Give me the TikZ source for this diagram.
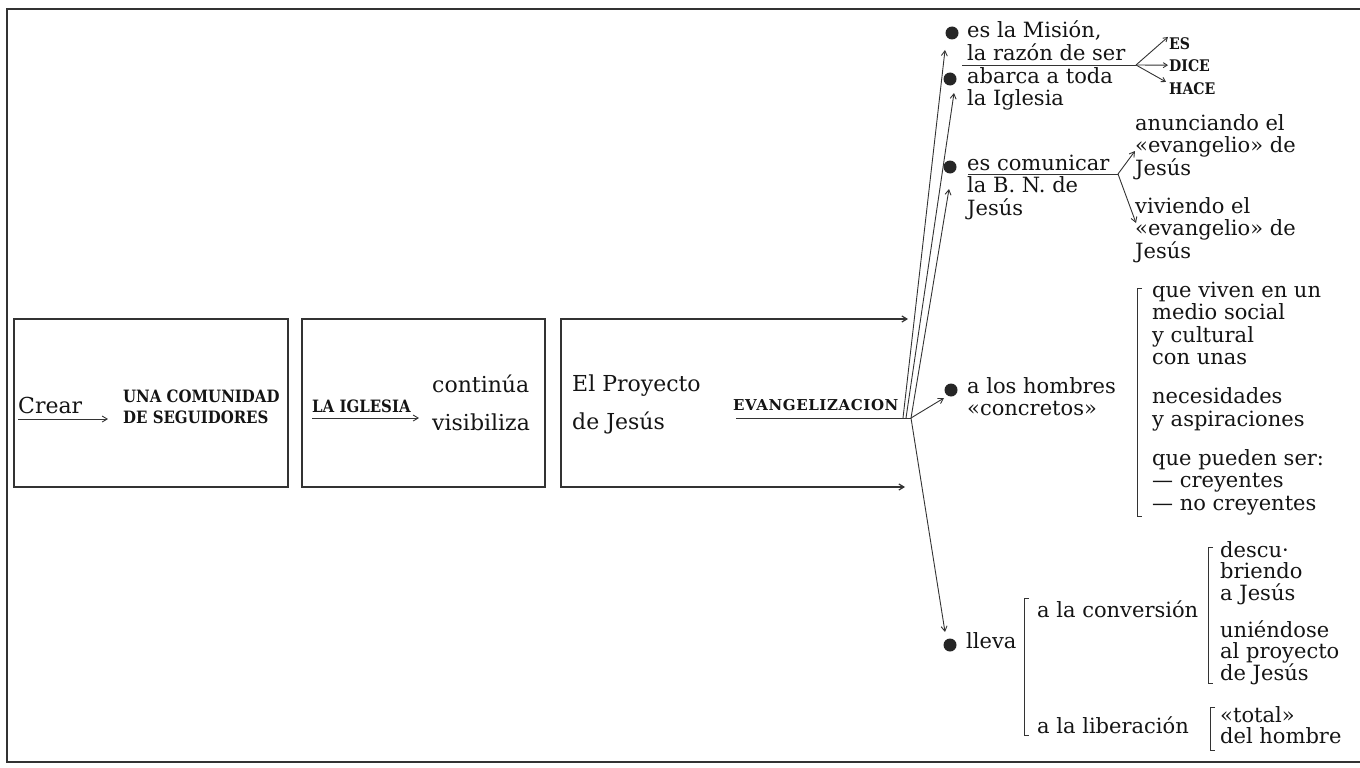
\documentclass[tikz,border=0pt]{standalone}
\usepackage{fontspec}
\setmainfont{DejaVu Serif}
\newfontfamily\capsfont[FakeStretch=0.88]{DejaVu Serif}
\newfontfamily\evanfont[LetterSpace=4]{DejaVu Serif}
\usetikzlibrary{arrows.meta}
\begin{document}
\begin{tikzpicture}[x=1pt,y=-1pt,
  frame/.style={draw=black!80,line width=1.6pt},
  boxline/.style={draw=black!80,line width=1.5pt},
  conn/.style={draw=black!80,line width=0.9pt,-{Straight Barb[length=5pt,width=6pt]}},
  sconn/.style={draw=black!80,line width=0.9pt,-{Straight Barb[length=4pt,width=5pt]}},
  plain/.style={draw=black!80,line width=0.9pt},
  brk/.style={draw=black!80,line width=1pt},
  txt/.style={inner sep=0pt,anchor=base west,align=left,text=black!92,font=\fontsize{21}{22.5}\selectfont},
  big/.style={txt,font=\fontsize{22}{38}\selectfont},
  caps/.style={txt,font=\capsfont\bfseries\fontsize{17}{21}\selectfont},
  ecaps/.style={txt,font=\evanfont\bfseries\fontsize{15}{21}\selectfont},
  tcaps/.style={txt,font=\capsfont\bfseries\fontsize{16}{16}\selectfont},
  dot/.style={circle,fill=black!85,inner sep=0pt,minimum size=13pt}]
\useasboundingbox (0,0) rectangle (1360,768);
% frame
\draw[frame] (1360,9) -- (7,9) -- (7,762) -- (1360,762);
% boxes
\node[boxline,draw,minimum width=274pt,minimum height=168pt,inner sep=0pt] (box1) at (151,403) {};
\node[boxline,draw,minimum width=243pt,minimum height=168pt,inner sep=0pt] (box2) at (423.5,403) {};
\coordinate (t3a) at (908,319);
\coordinate (t3b) at (905,487);
\draw[boxline,{Straight Barb[length=5pt,width=6pt]}-{Straight Barb[length=5pt,width=6pt]},line width=1.2pt] (t3a) -- (561,319) -- (561,487) -- (t3b);
% box texts (base = baseline of last line)
\node[big] (crear) at (18,413) {Crear};
\node[caps] (una) at (123,423) {UNA COMUNIDAD\\DE SEGUIDORES};
\draw[conn,shorten >=15pt] ([yshift=-6pt]crear.base west) -- ([yshift=-6pt]crear.base west -| una.west);
\node[caps] (igl) at (312,412) {LA IGLESIA};
\node[big] (cont) at (432,430) {continúa\\visibiliza};
\draw[conn,shorten >=13pt] ([yshift=-6pt]igl.base west) -- ([yshift=-6pt]igl.base west -| cont.west);
\node[big] (proy) at (572,429) {El Proyecto\\de  Jesús};
\node[ecaps] (evan) at (733,410) {EVANGELIZACION};
\coordinate (F) at (911,418);
\coordinate (F1) at (903,418);
\coordinate (F2) at (906,418);
\draw[plain] ([xshift=3pt,yshift=-8pt]evan.base west) -- (F);
% bullets
\node[dot] (b1) at (952,33) {};
\node[dot] (b2) at (950,79) {};
\node[dot] (b3) at (950,167) {};
\node[dot] (b4) at (951,390) {};
\node[dot] (b5) at (950,645) {};
\coordinate (a1) at (945,50);
\coordinate (a2) at (954,93);
\coordinate (a3) at (949,189);
\coordinate (a4) at (944,398);
\coordinate (a5) at (945,632);
\draw[conn] (F1) -- (a1);
\draw[conn] (F2) -- (a2);
\draw[conn] (F) -- (a3);
\draw[conn] (F) -- (a4);
\draw[conn] (F) -- (a5);
% top block
\node[txt] (t1) at (967,60.5) {es la Misión,\\la razón de ser};
\node[txt] (t2) at (967,105.5) {abarca a toda\\la Iglesia};
\coordinate (u1) at (962,65);
\coordinate (G) at (1136,65);
\draw[plain] (u1) -- (G);
\node[tcaps] (es) at (1169,49) {ES};
\node[tcaps] (dice) at (1169,71) {DICE};
\node[tcaps] (hace) at (1169,95) {HACE};
\draw[sconn] (G) -- ([xshift=-1pt]es.north west);
\draw[sconn] (G) -- ([xshift=-1pt]dice.west);
\draw[sconn] (G) -- ([xshift=-3pt,yshift=1pt]hace.north west);
% comunicar block
\node[txt] (t3) at (967,215) {es comunicar\\la B. N. de\\Jesús};
\coordinate (u3) at (968,174);
\coordinate (H) at (1118,174);
\draw[plain] (u3) -- (H);
\node[txt] (an) at (1135,175) {anunciando el\\«evangelio» de\\Jesús};
\node[txt] (vi) at (1135,258) {viviendo el\\«evangelio» de\\Jesús};
\coordinate (h1) at (1135,151);
\coordinate (h2) at (1136,223);
\draw[conn] (H) -- (h1);
\draw[conn] (H) -- (h2);
% hombres block
\node[txt] (t4) at (967,415.5) {a los hombres\\«concretos»};
\draw[brk] (1142,288) -- (1137,288) -- (1137,516) -- (1142,516);
\node[txt] (g4) at (1152,510) {que viven en un\\medio social\\y cultural\\con unas\\[16.5pt]necesidades\\y aspiraciones\\[16.5pt]que pueden ser:\\— creyentes\\— no creyentes};
% lleva block
\node[txt] (t5) at (966,648) {lleva};
\draw[brk] (1029,598) -- (1024,598) -- (1024,735) -- (1029,735);
\node[txt] (conv) at (1037,617) {a la conversión};
\node[txt] (lib) at (1037,733) {a la liberación};
\draw[brk] (1213,547) -- (1208,547) -- (1208,683) -- (1213,683);
\node[txt,font=\fontsize{21}{21.5}\selectfont] (desc) at (1220,680) {descu·\\briendo\\a Jesús\\[15.5pt]uniéndose\\al proyecto\\de Jesús};
\draw[brk] (1215,707) -- (1210,707) -- (1210,750) -- (1215,750);
\node[txt,font=\fontsize{21}{21.5}\selectfont] (tot) at (1220,743.5) {«total»\\del hombre};
\end{tikzpicture}
\end{document}
